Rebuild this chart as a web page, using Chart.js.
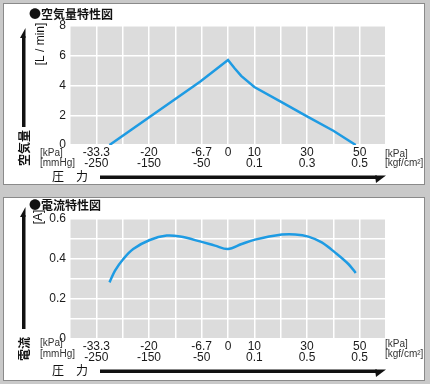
<!DOCTYPE html>
<html>
<head>
<meta charset="utf-8">
<script src="https://cdn.jsdelivr.net/npm/chart.js@4.4.1/dist/chart.umd.min.js"></script>
<style>
  body { margin: 0; width: 430px; height: 384px; background: #c9c9c9; position: relative; overflow: hidden; }
  .panel { position: absolute; left: 3px; width: 420px; background: #fff; border: 1px solid #8a8a8a; }
  canvas { position: absolute; left: 0; }
</style>
</head>
<body>
<div class="panel" style="top:3px;height:180px"></div>
<div class="panel" style="top:197px;height:182px"></div>
<canvas id="air" width="430" height="192" style="top:0"></canvas>
<canvas id="current" width="430" height="192" style="top:192px"></canvas>
<script>
// pressure in kPa
var airPressure = [-30, -7, 0, 2.5, 5, 10, 20, 30, 40, 48.5];
var airFlow = [0, 4.27, 5.72, 5.16, 4.65, 3.9, 2.92, 1.92, 0.96, 0];

var currentPressure = [-30, -28.6, -26.5, -24, -19.8, -15.5, -12.1, -7.1, -3.3, 0, 5.2, 10.3, 20.4, 25.5, 30.5, 35.6, 40.6, 45.7, 48.5];
var currentAmps = [0.283, 0.342, 0.4, 0.45, 0.495, 0.517, 0.512, 0.488, 0.467, 0.45, 0.475, 0.497, 0.522, 0.523, 0.512, 0.483, 0.433, 0.375, 0.33];

var kpaLabels = ['-33.3', '-20', '-6.7', '0', '10', '30', '50'];
var airSubLabels = ['-250', '-150', '-50', '', '0.1', '0.3', '0.5'];
var currentSubLabels = ['-250', '-150', '-50', '', '0.1', '0.5', '0.5'];

// the axis is not linear: one grid step is 6.67 kPa below 0 and 10 kPa above
function toGrid(k) {
    return 6 + (k < 0 ? k * 0.15 : k / 10);
}
var kpaPos = kpaLabels.map(function (l) { return Math.round(toGrid(parseFloat(l))); });

var cjk = '"Noto Sans CJK JP", sans-serif';
var latin = '"Liberation Sans", Arial, sans-serif';

function rotText(ctx, t, x, y) {
    ctx.save();
    ctx.translate(x, y);
    ctx.rotate(-Math.PI / 2);
    ctx.textAlign = 'center';
    ctx.fillText(t, 0, 0);
    ctx.restore();
}

var deco = {
    id: 'deco',
    beforeDraw: function (chart) {
        var a = chart.chartArea, ctx = chart.ctx;
        ctx.save();
        ctx.fillStyle = '#dcdcdc';
        ctx.fillRect(a.left, a.top, a.right - a.left, a.bottom - a.top);
        ctx.restore();
    },
    afterDraw: function (chart) {
        var d = chart.options.plugins.deco, ctx = chart.ctx;
        ctx.save();
        ctx.fillStyle = '#111';
        ctx.textBaseline = 'middle';
        ctx.textAlign = 'left';
        ctx.font = 'bold 12px ' + cjk;
        ctx.fillText(d.title, 29, d.titleY);

        // vertical arrow
        ctx.fillRect(22, d.arrTop + 8, 3.5, d.arrBottom - d.arrTop - 8);
        ctx.beginPath();
        ctx.moveTo(25.5, d.arrTop);
        ctx.lineTo(25.5, d.arrTop + 10);
        ctx.lineTo(20, d.arrTop + 10);
        ctx.closePath();
        ctx.fill();

        ctx.font = 'bold 12px ' + cjk;
        rotText(ctx, d.name, 24, d.nameY);
        ctx.font = '12px ' + latin;
        rotText(ctx, d.unit, d.unitX, d.unitY);

        // unit captions of the x axis
        ctx.font = '10px ' + latin;
        ctx.fillStyle = '#333';
        ctx.fillText('[kPa]', 40, d.capY1);
        ctx.fillText('[mmHg]', 40, d.capY2);
        ctx.fillText('[kPa]', 385, d.capY1 + 1);
        ctx.fillText('[kgf/cm²]', 385, d.capY2);

        ctx.fillStyle = '#111';
        ctx.font = '12px ' + cjk;
        ctx.textAlign = 'center';
        ctx.fillText('圧', 58, d.pressY);
        ctx.fillText('力', 82, d.pressY);

        // horizontal arrow
        var y0 = d.pressY - 0.5;
        ctx.fillRect(100, y0, 277, 3.5);
        ctx.beginPath();
        ctx.moveTo(375, y0);
        ctx.lineTo(386, y0);
        ctx.lineTo(376, y0 + 7.5);
        ctx.closePath();
        ctx.fill();
        ctx.restore();
    }
};

function makeChart(id, xs, ys, yMax, yStep, yLabel, subLabels, padTop, xHeight, decoOpts) {
    var pts = xs.map(function (x, i) { return { x: toGrid(x), y: ys[i] }; });
    return new Chart(document.getElementById(id), {
        type: 'line',
        data: {
            datasets: [{
                data: pts,
                borderColor: '#1e9be3',
                borderWidth: 2.5,
                pointRadius: 0,
                tension: decoOpts.tension,
                fill: false
            }]
        },
        options: {
            responsive: false,
            animation: false,
            devicePixelRatio: 1,
            layout: { padding: { top: padTop, right: 44, left: 0, bottom: 0 } },
            plugins: {
                legend: { display: false },
                tooltip: { enabled: false },
                deco: decoOpts
            },
            scales: {
                x: {
                    type: 'linear',
                    min: 0,
                    max: 12,
                    afterFit: function (s) { s.height = xHeight; },
                    border: { display: false },
                    grid: { color: '#ffffff', lineWidth: 1.5, drawTicks: false },
                    ticks: {
                        stepSize: 1,
                        autoSkip: false,
                        maxRotation: 0,
                        padding: 2,
                        color: '#1a1a1a',
                        font: { size: 12, family: latin, lineHeight: 0.9 },
                        callback: function (v) {
                            var i = kpaPos.indexOf(v);
                            return i < 0 ? '' : [kpaLabels[i], subLabels[i]];
                        }
                    }
                },
                y: {
                    min: 0,
                    max: yMax,
                    afterFit: function (s) { s.width = 70; },
                    border: { display: false },
                    grid: { color: '#ffffff', lineWidth: 1.5, drawTicks: false },
                    ticks: {
                        stepSize: yStep,
                        padding: 4,
                        color: '#1a1a1a',
                        font: { size: 12, family: latin },
                        callback: yLabel
                    }
                }
            }
        },
        plugins: [deco]
    });
}

makeChart('air', airPressure, airFlow, 8, 1,
    function (v) { return v % 2 === 0 ? v : ''; },
    airSubLabels, 26, 47,
    { title: '●空気量特性図', titleY: 14, name: '空気量', nameY: 148, unit: '[L / min]', unitX: 41, unitY: 44,
      arrTop: 28, arrBottom: 127, capY1: 153, capY2: 163.5, pressY: 176, tension: 0 });

makeChart('current', currentPressure, currentAmps, 0.6, 0.1,
    function (v, i) { return i % 2 === 0 ? (v === 0 ? '0' : v.toFixed(1)) : ''; },
    currentSubLabels, 27, 45,
    { title: '●電流特性図', titleY: 13, name: '電流', nameY: 157, unit: '[A]', unitX: 38.5, unitY: 25,
      arrTop: 15, arrBottom: 137, capY1: 151.5, capY2: 162, pressY: 178, tension: 0.35 });
</script>
</body>
</html>
